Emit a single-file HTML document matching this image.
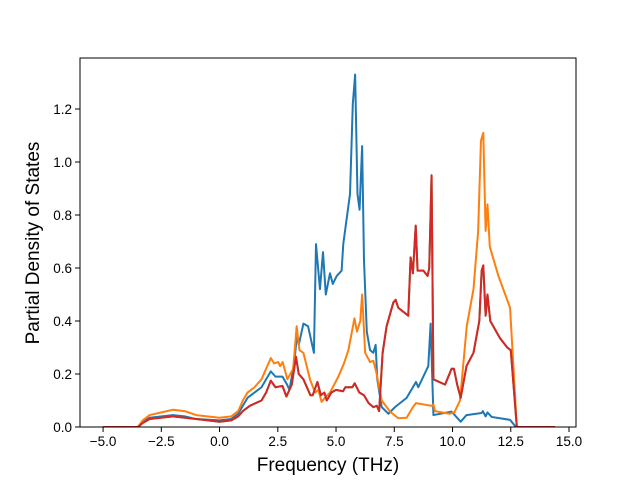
<!DOCTYPE html>
<html><head><meta charset="utf-8"><style>
html,body{margin:0;padding:0;background:#fff;}
svg{display:block;font-family:"Liberation Sans","DejaVu Sans",sans-serif;}
</style></head><body>
<svg id="chart" width="640" height="480" viewBox="0 0 640 480" xmlns="http://www.w3.org/2000/svg">
<rect x="0" y="0" width="640" height="480" fill="#fff"/>
<g id="series"></g>
<g id="axes"></g>
<text x="328" y="471" text-anchor="middle" font-size="19" fill="#000">Frequency (THz)</text>
<text transform="translate(39,243) rotate(-90)" text-anchor="middle" font-size="19" fill="#000">Partial Density of States</text>
</svg>
<script>
const xTicks=[-5,-2.5,0,2.5,5,7.5,10,12.5,15];
const xTickLabels=["−5.0","−2.5","0.0","2.5","5.0","7.5","10.0","12.5","15.0"];
const yTicks=[0,0.2,0.4,0.6,0.8,1.0,1.2];
const yTickLabels=["0.0","0.2","0.4","0.6","0.8","1.0","1.2"];
const blueX=[-5,-3.5,-3.3,-3,-2,-1.5,-1,0,0.5,0.8,1.0,1.2,1.5,1.8,2.0,2.2,2.4,2.7,2.9,3.0,3.2,3.33,3.4,3.6,3.8,4.0,4.05,4.14,4.31,4.44,4.56,4.74,4.86,5.03,5.24,5.31,5.6,5.72,5.82,5.92,6.01,6.12,6.2,6.32,6.46,6.6,6.7,6.77,6.96,7.25,7.53,8.03,8.43,8.53,8.96,9.06,9.18,9.96,10.35,10.6,11.25,11.3,11.42,11.5,11.68,12.47,12.72,14.4];
const blueY=[0,0,0.02,0.035,0.045,0.04,0.03,0.025,0.03,0.05,0.08,0.11,0.13,0.15,0.18,0.21,0.19,0.19,0.16,0.14,0.24,0.35,0.31,0.39,0.38,0.3,0.28,0.69,0.52,0.66,0.5,0.58,0.54,0.57,0.59,0.69,0.88,1.22,1.33,0.88,0.82,1.06,0.63,0.36,0.29,0.28,0.31,0.18,0.075,0.05,0.075,0.11,0.17,0.15,0.23,0.39,0.045,0.058,0.02,0.045,0.053,0.06,0.04,0.055,0.038,0.027,0,0];
const orangeX=[-5,-3.5,-3.3,-3,-2,-1.5,-1,0,0.5,0.8,1.0,1.2,1.5,1.8,2.0,2.2,2.34,2.52,2.6,2.71,2.91,3.16,3.31,3.43,3.6,3.88,4.1,4.24,4.38,4.52,4.74,5.1,5.34,5.53,5.79,5.9,6.04,6.12,6.25,6.46,6.6,6.72,6.96,7.32,7.67,8.03,8.3,8.43,9.1,9.18,9.25,9.87,10.08,10.32,10.61,10.9,11.1,11.22,11.32,11.42,11.5,11.6,11.97,12.47,12.76,14.4];
const orangeY=[0,0,0.025,0.045,0.065,0.06,0.045,0.035,0.04,0.06,0.1,0.13,0.15,0.18,0.22,0.26,0.24,0.245,0.23,0.245,0.18,0.22,0.38,0.29,0.28,0.18,0.13,0.14,0.095,0.11,0.13,0.19,0.24,0.29,0.41,0.36,0.4,0.5,0.28,0.245,0.25,0.21,0.1,0.058,0.033,0.035,0.075,0.09,0.08,0.085,0.06,0.05,0.055,0.1,0.38,0.52,0.74,1.08,1.11,0.74,0.84,0.68,0.57,0.45,0,0];
const redX=[-5,-3.5,-3.3,-3,-2,-1,0,0.5,0.8,1.0,1.3,1.8,2.0,2.2,2.4,2.7,2.87,3.1,3.28,3.4,3.6,3.9,4.0,4.2,4.35,4.5,4.6,4.8,5.0,5.3,5.4,5.7,5.8,6.0,6.2,6.4,6.6,6.75,6.85,7.0,7.17,7.46,7.56,7.67,8.1,8.2,8.3,8.42,8.5,8.75,8.93,9.0,9.1,9.18,9.68,9.96,10.06,10.2,10.35,10.6,10.9,11.15,11.25,11.32,11.42,11.5,11.62,12.04,12.35,12.5,12.76,14.4];
const redY=[0,0,0.015,0.03,0.04,0.03,0.02,0.025,0.04,0.06,0.08,0.1,0.13,0.175,0.15,0.155,0.115,0.16,0.265,0.2,0.18,0.12,0.12,0.17,0.12,0.13,0.1,0.13,0.14,0.135,0.15,0.15,0.165,0.13,0.12,0.09,0.075,0.08,0.06,0.28,0.38,0.47,0.48,0.45,0.42,0.64,0.58,0.76,0.59,0.59,0.57,0.6,0.95,0.18,0.16,0.22,0.22,0.16,0.11,0.23,0.28,0.4,0.59,0.61,0.42,0.5,0.4,0.335,0.3,0.29,0,0];
const L=80,R=576,T=58,B=427;
const xMin=-5.99,xMax=15.3,yMin=0,yMax=1.3925;
function sx(v){return L+(v-xMin)/(xMax-xMin)*(R-L);}
function sy(v){return B-(v-yMin)/(yMax-yMin)*(B-T);}
const NS="http://www.w3.org/2000/svg";
const sg=document.getElementById('series'),ag=document.getElementById('axes');
function line(xs,ys,color,name){
  const p=document.createElementNS(NS,'polyline');
  p.setAttribute('points',xs.map((x,i)=>sx(x).toFixed(2)+','+sy(ys[i]).toFixed(2)).join(' '));
  p.setAttribute('fill','none');p.setAttribute('stroke',color);p.setAttribute('stroke-width','2');
  p.setAttribute('stroke-linejoin','round');
  
  
  sg.appendChild(p);
}
const clip=document.createElementNS(NS,'clipPath');clip.setAttribute('id','c');
const cr=document.createElementNS(NS,'rect');cr.setAttribute('x',L);cr.setAttribute('y',T);cr.setAttribute('width',R-L);cr.setAttribute('height',B-T);
clip.appendChild(cr);document.getElementById('chart').appendChild(clip);
sg.setAttribute('clip-path','url(#c)');
line(blueX,blueY,'#1f77b4','blue-series-line');
line(orangeX,orangeY,'#ff7f0e','orange-series-line');
line(redX,redY,'#2ca02c','green-series-line');
line(redX,redY,'#d62728','red-series-line');
const frame=document.createElementNS(NS,'rect');
frame.setAttribute('x',L);frame.setAttribute('y',T);frame.setAttribute('width',R-L);frame.setAttribute('height',B-T);
frame.setAttribute('fill','none');frame.setAttribute('stroke','#000');frame.setAttribute('stroke-width','1');


ag.appendChild(frame);
xTicks.forEach((t,i)=>{
  const x=sx(t);
  const l=document.createElementNS(NS,'line');
  l.setAttribute('x1',x);l.setAttribute('x2',x);l.setAttribute('y1',B);l.setAttribute('y2',B+5);l.setAttribute('stroke','#000');
  
  
  ag.appendChild(l);
  const tx=document.createElementNS(NS,'text');
  tx.setAttribute('x',x);tx.setAttribute('y',B+19);tx.setAttribute('text-anchor','middle');tx.setAttribute('font-size','13.5');
  tx.textContent=xTickLabels[i];
  
  
  ag.appendChild(tx);
});
yTicks.forEach((t,i)=>{
  const y=sy(t);
  const l=document.createElementNS(NS,'line');
  l.setAttribute('x1',L-5);l.setAttribute('x2',L);l.setAttribute('y1',y);l.setAttribute('y2',y);l.setAttribute('stroke','#000');
  
  
  ag.appendChild(l);
  const tx=document.createElementNS(NS,'text');
  tx.setAttribute('x',L-8);tx.setAttribute('y',y+5);tx.setAttribute('text-anchor','end');tx.setAttribute('font-size','13.5');
  tx.textContent=yTickLabels[i];
  
  
  ag.appendChild(tx);
});
</script>
</body></html>
